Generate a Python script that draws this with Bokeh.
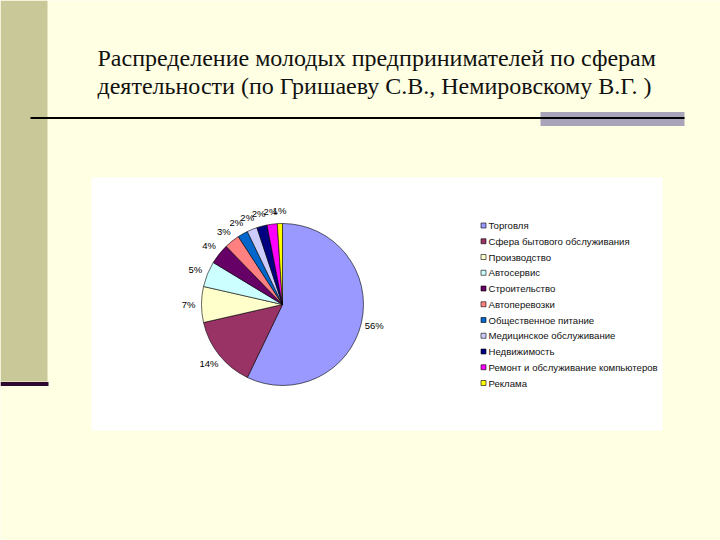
import math
from bokeh.plotting import figure
from bokeh.models import Range1d, ColumnDataSource
from bokeh.core.properties import value
from bokeh.embed import file_html
from bokeh.resources import INLINE

# ---- data ----
title_lines = [
    "Распределение молодых предпринимателей по сферам",
    "деятельности (по Гришаеву С.В., Немировскому В.Г. )",
]
categories = [
    "Торговля",
    "Сфера бытового обслуживания",
    "Производство",
    "Автосервис",
    "Строительство",
    "Автоперевозки",
    "Общественное питание",
    "Медицинское обслуживание",
    "Недвижимость",
    "Ремонт и обслуживание компьютеров",
    "Реклама",
]
shares = [56, 14, 7, 5, 4, 3, 2, 2, 2, 2, 1]
colors = ["#9999FF", "#993366", "#FFFFCC", "#CCFFFF", "#660066", "#FF8080",
          "#0066CC", "#CCCCFF", "#000080", "#FF00FF", "#FFFF00"]

# ---- layout (page pixels, y measured from top) ----
W, H = 720, 540
def Y(py):
    return 540 - py

p = figure(width=W, height=H, output_backend="svg", toolbar_location=None,
           x_range=Range1d(0, W), y_range=Range1d(0, H),
           min_border=0)
p.axis.visible = False
p.grid.visible = False
p.outline_line_color = None
p.background_fill_color = "#FFFFE3"
p.border_fill_color = "#FFFFE3"

# left stripe and its dark bar
p.quad(left=0, right=47, top=Y(0), bottom=Y(381), fill_color="#C9C899", line_color=None)
p.quad(left=0, right=48, top=Y(381.5), bottom=Y(385.5), fill_color="#2E0A30", line_color=None)

# title
p.text(x=[97, 97], y=[Y(57), Y(85)], text=title_lines,
       text_font=value("Liberation Serif"), text_font_size="24px",
       text_color="#111111", text_baseline="middle", text_align="left")

# rule under the title
p.quad(left=540, right=684, top=Y(111.5), bottom=Y(125.5), fill_color="#A9A3B9", line_color=None)
p.segment(x0=30, y0=Y(117.5), x1=684, y1=Y(117.5), line_color="#000000", line_width=2)

# white chart area
p.quad(left=91, right=662, top=Y(177), bottom=Y(430), fill_color="#FFFFFF", line_color=None)

# pie
cx, cy, r = 282, Y(304), 81
total = sum(shares)
starts, ends, lx, ly, labels = [], [], [], [], []
cum = 0.0
for v in shares:
    a0 = math.pi / 2 - 2 * math.pi * cum / total
    cum += v
    a1 = math.pi / 2 - 2 * math.pi * cum / total
    starts.append(a0)
    ends.append(a1)
    mid = (a0 + a1) / 2
    lx.append(cx + 94 * math.cos(mid))
    ly.append(cy + 94 * math.sin(mid))
    labels.append(f"{v}%")

src = ColumnDataSource(dict(start=starts, end=ends, color=colors))
p.wedge(x=cx, y=cy, radius=r, start_angle="start", end_angle="end",
        direction="clock", fill_color="color", line_color="#000000",
        line_width=0.6, source=src)
p.text(x=lx, y=ly, text=labels, text_font=value("Liberation Sans"),
       text_font_size="9.5px", text_color="#000000",
       text_align="center", text_baseline="middle")

# legend
rows_y = [Y(225 + 15.75 * i) for i in range(len(categories))]
p.scatter(x=[483] * len(categories), y=rows_y, marker="square", size=5,
          fill_color=colors, line_color="#000000", line_width=0.6)
p.text(x=[488] * len(categories), y=rows_y, text=categories,
       text_font=value("Liberation Sans"), text_font_size="9.6px",
       text_color="#111111", text_align="left", text_baseline="middle")

open("out.html", "w").write(file_html(p, INLINE))
